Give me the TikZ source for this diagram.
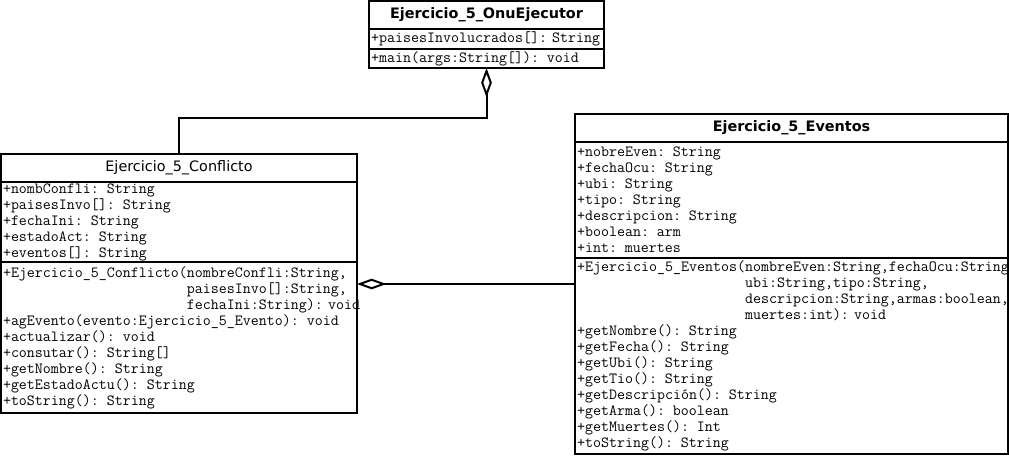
\documentclass[tikz,border=0pt]{standalone}
\usepackage{fontspec}
\setmainfont{DejaVu Sans}
\setmonofont{Latin Modern Mono}
\usetikzlibrary{arrows.meta, positioning}
\tikzstyle{aggregation} = [draw, line width=1.5pt, -{Diamond[open,length=22pt,width=8pt]}]

\begin{document}
\begin{tikzpicture}[x=0.75pt,y=-0.75pt]
  \tikzset{
    class title/.style={
      rectangle,
      draw=black,
      line width=1.5pt,
      outer sep=0pt,
      inner sep=0pt,
      minimum width=#1,
      minimum height=21pt,
      anchor=north west,
      font=\fontsize{10.8}{13}\selectfont
    },
    class body/.style 2 args={
      rectangle,
      draw=black,
      line width=1.5pt,
      outer sep=0pt,
      inner xsep=1.5pt,
      inner ysep=0pt,
      text width=#1,
      minimum height=#2,
      align=left,
      font=\ttfamily\fontsize{11.65}{12}\selectfont
    }
  }

  \useasboundingbox (0,0) rectangle (1009,455);

  % Ejercicio_5_OnuEjecutor
  \node[class title=176.25pt] (onuT) at (369,1) {\bfseries Ejercicio\_5\_OnuEjecutor};
  \node[class body={173.25pt}{15pt}, below=0pt of onuT] (onuA)
    {+paisesInvolucrados[]:~String};
  \node[class body={173.25pt}{14.25pt}, below=0pt of onuA] (onuM)
    {+main(args:String[]): void};

  % Ejercicio_5_Conflicto
  \node[class title=267pt] (confT) at (1,154) {Ejercicio\_5\_Conflicto};
  \node[class body={264pt}{60pt}, below=0pt of confT] (confA)
    {+nombConfli: String\\
     +paisesInvo[]: String\\
     +fechaIni: String\\
     +estadoAct: String\\
     +eventos[]: String};
  \node[class body={264pt}{113.25pt}, below=0pt of confA] (confM)
    {+Ejercicio\_5\_Conflicto(nombreConfli:String,\\
     \phantom{+Ejercicio\_5\_Conflicto(}paisesInvo[]:String,\\
     \phantom{+Ejercicio\_5\_Conflicto(}fechaIni:String):~void\\
     +agEvento(evento:Ejercicio\_5\_Evento): void\\
     +actualizar(): void\\
     +consutar(): String[]\\
     +getNombre(): String\\
     +getEstadoActu(): String\\
     +toString(): String};

  % Ejercicio_5_Eventos
  \node[class title=324.75pt] (evT) at (575,114) {\bfseries Ejercicio\_5\_Eventos};
  \node[class body={321.75pt}{87pt}, below=0pt of evT] (evA)
    {+nobreEven: String\\
     +fechaOcu: String\\
     +ubi: String\\
     +tipo: String\\
     +descripcion: String\\
     +boolean: arm\\
     +int: muertes};
  \node[class body={321.75pt}{147pt}, below=0pt of evA] (evM)
    {+Ejercicio\_5\_Eventos(nombreEven:String,fechaOcu:String,\\
     \phantom{+Ejercicio\_5\_Eventos(}ubi:String,tipo:String,\\
     \phantom{+Ejercicio\_5\_Eventos(}descripcion:String,armas:boolean,\\
     \phantom{+Ejercicio\_5\_Eventos(}muertes:int):~void\\
     +getNombre(): String\\
     +getFecha(): String\\
     +getUbi(): String\\
     +getTio(): String\\
     +getDescripción(): String\\
     +getArma(): boolean\\
     +getMuertes(): Int\\
     +toString(): String};

  % aggregations
  \draw[aggregation] (confT.north) -- ++(0,-36) -| (onuM.south);
  \coordinate (evLink) at (evM.west |- 0,284);
  \draw[aggregation] (evLink) -- (confM.east |- evLink);
\end{tikzpicture}
\end{document}
